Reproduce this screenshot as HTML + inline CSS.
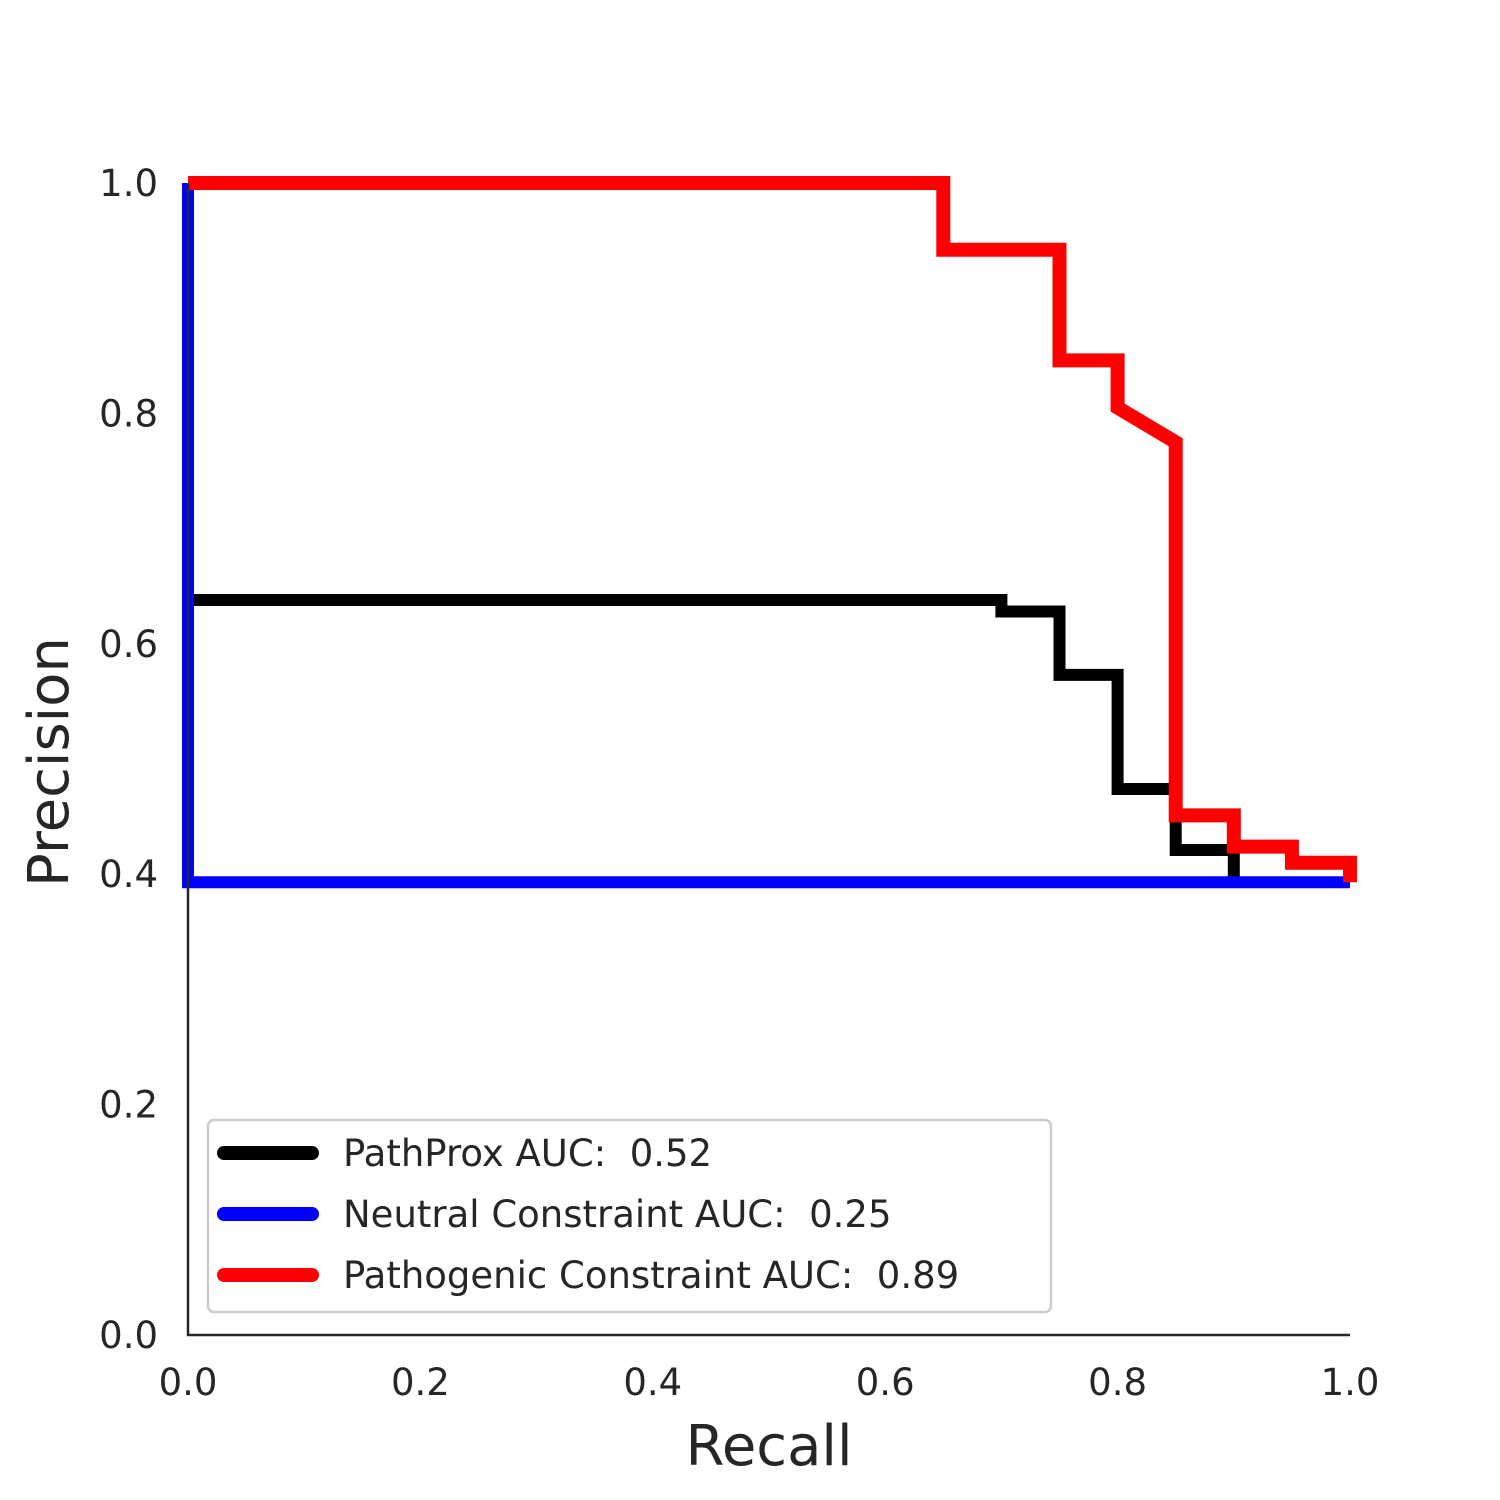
<!DOCTYPE html>
<html><head><meta charset="utf-8"><style>
html,body{margin:0;padding:0;background:#fff}
svg{display:block;font-family:"DejaVu Sans","Liberation Sans",sans-serif}
text{white-space:pre}
</style></head><body>
<svg id="chart" width="1500" height="1500" viewBox="0 0 1500 1500">
<g id="plot"></g>
<g id="axes"></g>
<g id="legend"></g>
</svg>
<script>
const xTicks = [0.0, 0.2, 0.4, 0.6, 0.8, 1.0];
const yTicks = [0.0, 0.2, 0.4, 0.6, 0.8, 1.0];
const pathproxRecall = [0, 0, 0.70, 0.70, 0.75, 0.75, 0.80, 0.80, 0.85, 0.85, 0.90, 0.90];
const pathproxPrecision = [0.395, 0.638, 0.638, 0.628, 0.628, 0.573, 0.573, 0.474, 0.474, 0.421, 0.421, 0.395];
const neutralRecall = [0, 0, 1.0];
const neutralPrecision = [1.0, 0.393, 0.393];
const pathoRecall = [0, 0.65, 0.65, 0.75, 0.75, 0.80, 0.80, 0.85, 0.85, 0.90, 0.90, 0.95, 0.95, 1.0, 1.0];
const pathoPrecision = [1.0, 1.0, 0.942, 0.942, 0.846, 0.846, 0.805, 0.775, 0.451, 0.451, 0.424, 0.424, 0.41, 0.41, 0.393];
const legendLabels = ["PathProx AUC:  0.52", "Neutral Constraint AUC:  0.25", "Pathogenic Constraint AUC:  0.89"];
const legendColors = ["#000000", "#0000ff", "#ff0000"];

const NS = "http://www.w3.org/2000/svg";
const X0 = 188, X1 = 1350, Y0 = 1335, Y1 = 183;
const xs = v => X0 + v * (X1 - X0);
const ys = v => Y0 - v * (Y0 - Y1);
function mk(tag, attrs, parent) {
  const e = document.createElementNS(NS, tag);
  for (const k in attrs) e.setAttribute(k, attrs[k]);
  parent.appendChild(e);
  return e;
}
const plot = document.getElementById('plot');
const axes = document.getElementById('axes');
const legend = document.getElementById('legend');

function series(rx, py, color, w, name) {
  const pts = rx.map((r, i) => xs(r).toFixed(1) + "," + ys(py[i]).toFixed(1)).join(" ");
  const pl = mk('polyline', {points: pts, fill: 'none', stroke: color, 'stroke-width': w, 'stroke-linejoin': 'miter'}, plot);
  
  
}
series(pathproxRecall, pathproxPrecision, '#000000', 12, 'pathprox-line');
series(neutralRecall, neutralPrecision, '#0000ff', 12, 'neutral-constraint-line');
series(pathoRecall, pathoPrecision, '#ff0000', 14, 'pathogenic-constraint-line');

let s = mk('line', {x1: X0, y1: Y1, x2: X0, y2: Y0 + 1, stroke: '#262626', 'stroke-width': 2.5}, axes);


s = mk('line', {x1: X0 - 1, y1: Y0, x2: X1, y2: Y0, stroke: '#262626', 'stroke-width': 2.5}, axes);



xTicks.forEach(v => {
  const t = mk('text', {x: xs(v), y: 1395, 'text-anchor': 'middle', 'font-size': 37, fill: '#262626'}, axes);
  t.textContent = v.toFixed(1);
  
  
});
yTicks.forEach(v => {
  const t = mk('text', {x: 158, y: ys(v) + 13, 'text-anchor': 'end', 'font-size': 37, fill: '#262626'}, axes);
  t.textContent = v.toFixed(1);
  
  
});
let t = mk('text', {x: 769, y: 1465, 'text-anchor': 'middle', 'font-size': 56, fill: '#262626'}, axes);
t.textContent = 'Recall';


t = mk('text', {x: 0, y: 0, 'text-anchor': 'middle', 'font-size': 56, fill: '#262626', transform: 'translate(68,762) rotate(-90)'}, axes);
t.textContent = 'Precision';



const box = mk('rect', {x: 208, y: 1120, width: 843, height: 192, rx: 6, fill: '#ffffff', 'fill-opacity': 0.85, stroke: '#cccccc', 'stroke-width': 2.5}, legend);


legendLabels.forEach((lab, i) => {
  const y = 1153 + i * 61;
  const g = mk('g', {}, legend);
  
  
  mk('line', {x1: 224, y1: y, x2: 312, y2: y, stroke: legendColors[i], 'stroke-width': 14, 'stroke-linecap': 'round'}, g);
  const tx = mk('text', {x: 343, y: y + 13, 'font-size': 37, fill: '#262626'}, g);
  tx.textContent = lab;
});
</script>
</body></html>
